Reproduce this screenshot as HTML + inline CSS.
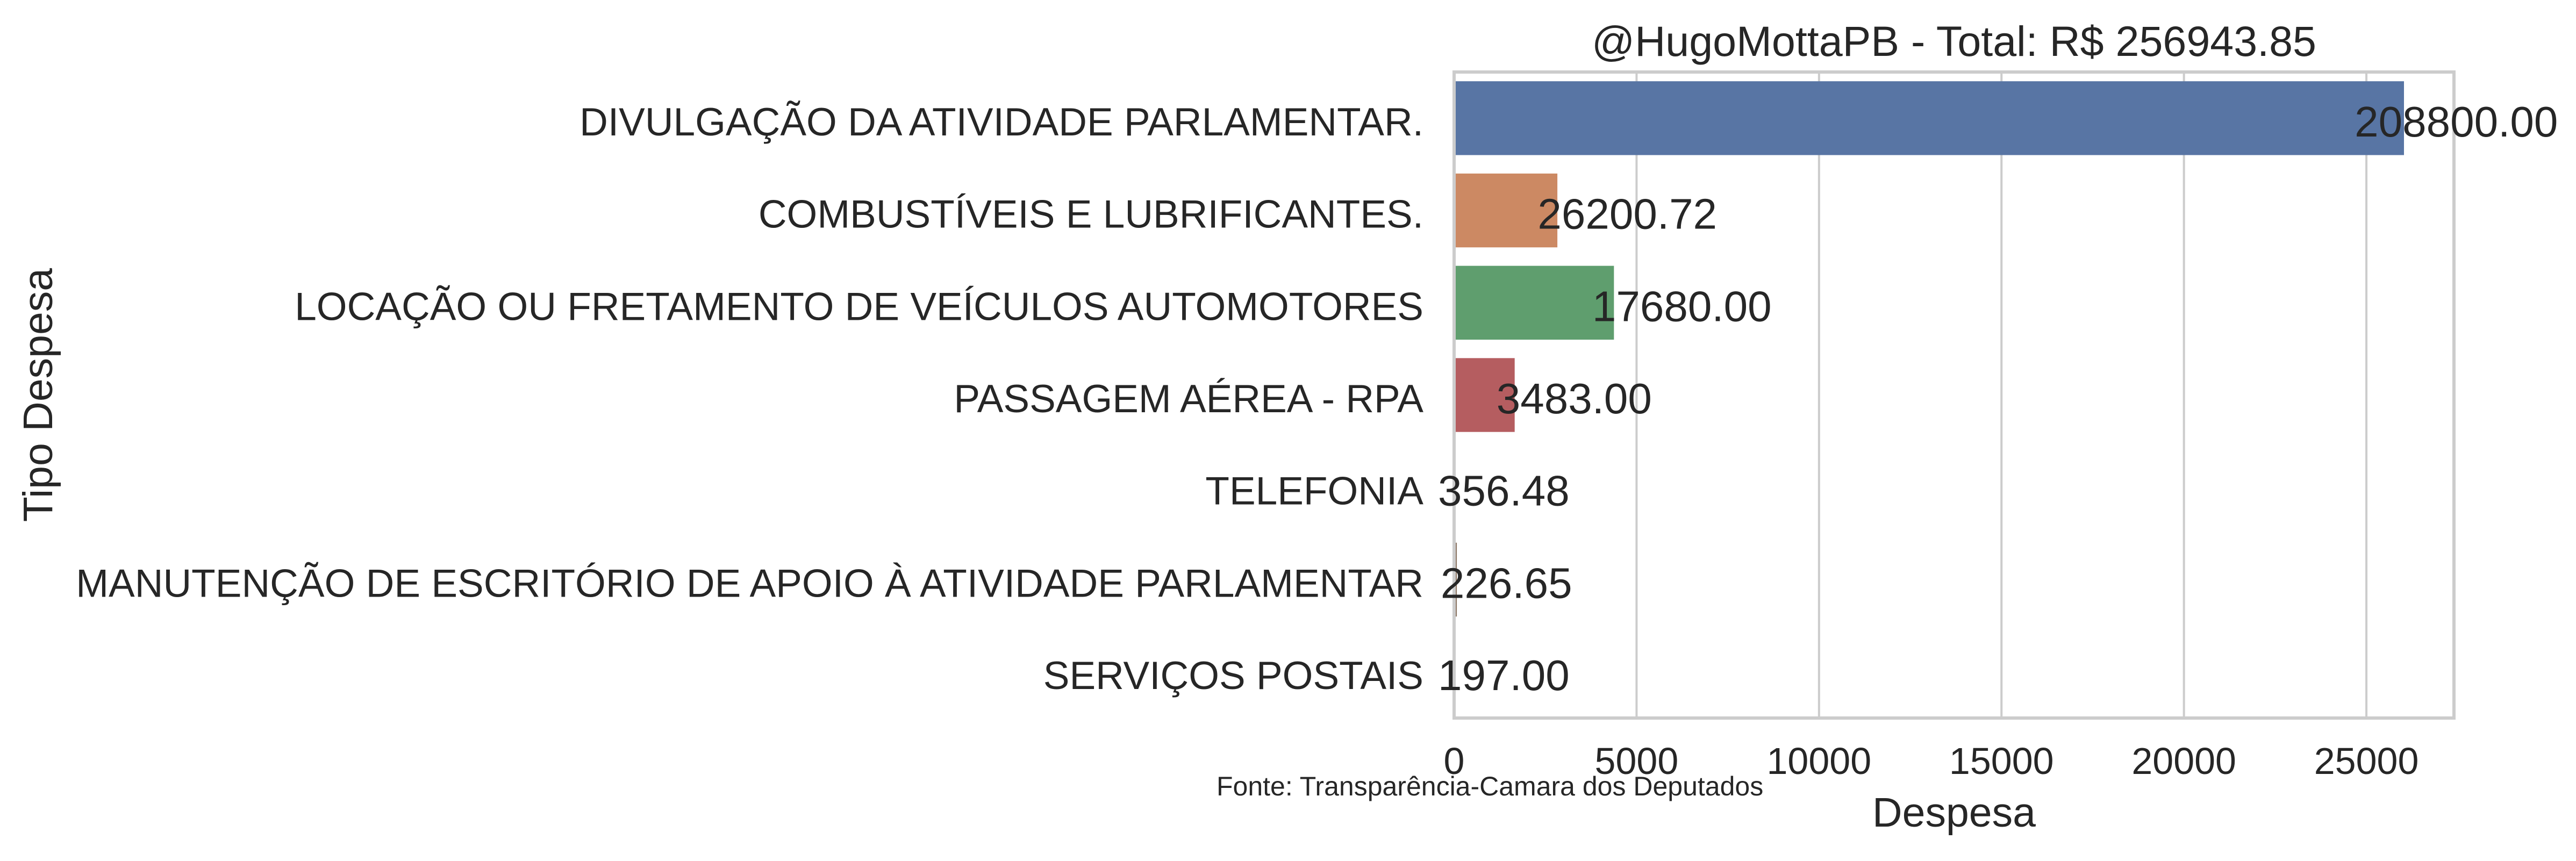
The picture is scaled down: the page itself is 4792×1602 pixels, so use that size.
<!DOCTYPE html>
<html><head><meta charset="utf-8"><style>
html,body{margin:0;padding:0;background:#fff;}
svg{display:block;font-family:"Liberation Sans",Arial,sans-serif;}
</style></head><body>
<svg id="chart" width="4792" height="1602" viewBox="0 0 4792 1602" xmlns="http://www.w3.org/2000/svg">
<rect width="4792" height="1602" fill="#fff"/>
<g id="grid"></g>
<g id="bars"></g>
<g id="spines"></g>
<g id="ylabels"></g>
<g id="xticks"></g>
<g id="vlabels"></g>
<text x="3635" y="104" font-size="79" text-anchor="middle" fill="#262626">@HugoMottaPB - Total: R$ 256943.85</text>
<text x="3635" y="1538" font-size="77" text-anchor="middle" fill="#262626">Despesa</text>
<text transform="translate(97,735) rotate(-90)" font-size="77" text-anchor="middle" fill="#262626">Tipo Despesa</text>
<text x="2263" y="1480" font-size="50" fill="#262626">Fonte: Transparência-Camara dos Deputados</text>
</svg>
<script>
const categories = ["DIVULGAÇÃO DA ATIVIDADE PARLAMENTAR.","COMBUSTÍVEIS E LUBRIFICANTES.","LOCAÇÃO OU FRETAMENTO DE VEÍCULOS AUTOMOTORES","PASSAGEM AÉREA - RPA","TELEFONIA","MANUTENÇÃO DE ESCRITÓRIO DE APOIO À ATIVIDADE PARLAMENTAR","SERVIÇOS POSTAIS"];
const barValues = [26030, 2830, 4380, 1660, 0, 75, 0];
const valueLabels = ["208800.00","26200.72","17680.00","3483.00","356.48","226.65","197.00"];
const xTicks = [0, 5000, 10000, 15000, 20000, 25000];
const colors = ["#5875a4","#cc8963","#5f9e6e","#b55d60","#857aab","#8d7866","#d095bf"];

const NS="http://www.w3.org/2000/svg";
const L=2705,R=4565,T=134,B=1336,XMAX=27400;
const xs=v=>L+(v/XMAX)*(R-L);
const band=(B-T)/categories.length;
const yc=i=>T+band*(i+0.5);
function mk(tag,attrs,parent,text){const e=document.createElementNS(NS,tag);for(const k in attrs)e.setAttribute(k,attrs[k]);if(text!==undefined)e.textContent=text;document.getElementById(parent).appendChild(e);return e;}

xTicks.forEach((t,i)=>{
  const g=mk('line',{x1:xs(t),x2:xs(t),y1:T,y2:B,stroke:'#cccccc','stroke-width':4},'grid');
  
  
  const tl=mk('text',{x:xs(t),y:1440,'font-size':70,'text-anchor':'middle',fill:'#262626'},'xticks',String(t));
  
  
});

categories.forEach((c,i)=>{
  const h=band*0.8;
  const w=xs(barValues[i])-L;
  const r=mk('rect',{x:L,y:yc(i)-h/2,width:Math.max(w,0),height:h,fill:colors[i]},'bars');
  
  
  const lab=mk('text',{x:2648,y:yc(i)+32,'font-size':73,'text-anchor':'end',fill:'#262626'},'ylabels',c);
  
  
  const vx=xs(barValues[i])-30-0.035*w;
  const vl=mk('text',{x:vx,y:yc(i)+34,'font-size':80,fill:'#262626'},'vlabels',valueLabels[i]);
  
  
});

const sp=mk('rect',{x:L,y:T,width:R-L,height:B-T,fill:'none',stroke:'#cccccc','stroke-width':6},'spines');


</script>
</body></html>
